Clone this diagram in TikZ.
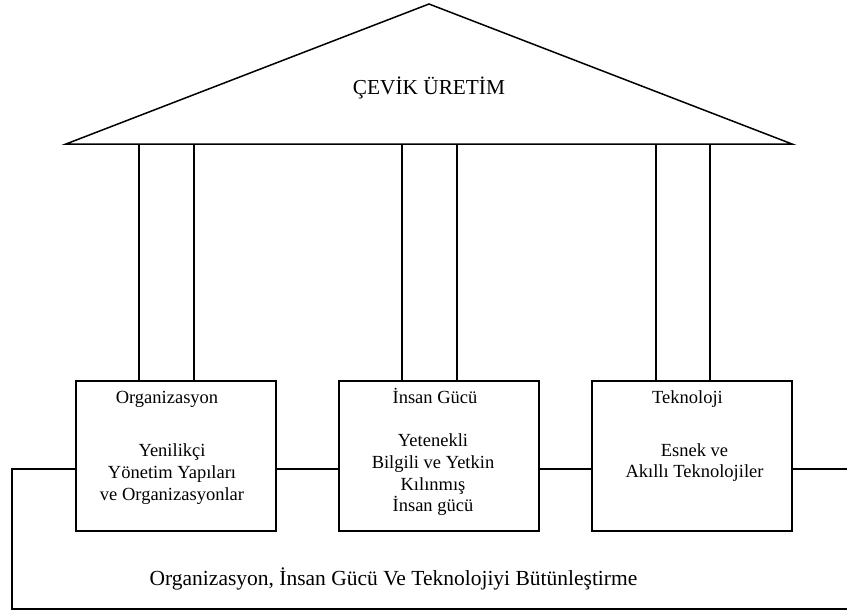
\documentclass[tikz,border=0pt]{standalone}
\usepackage{fontspec}
\setmainfont{Liberation Serif}
\begin{document}
\begin{tikzpicture}[x=1pt,y=1pt, line width=1.5pt,
  box/.style={draw, minimum width=200pt, minimum height=150pt, inner sep=0pt},
  lbl/.style={font=\fontsize{18.5}{21.7}\selectfont, align=center, inner sep=0pt},
  hdr/.style={font=\fontsize{18.5}{21.7}\selectfont, inner sep=0pt, anchor=base},
  ttl/.style={font=\fontsize{21.3}{25}\selectfont, inner sep=0pt}]
\useasboundingbox (0,0) rectangle (847,-613);
% roof
\coordinate (rl) at (66,-144);
\coordinate (ra) at (429,-4);
\coordinate (rr) at (792,-144);
\draw[line join=miter] (rl) -- (ra) -- (rr) -- cycle;
\node[ttl] (title) at (429,-88) {ÇEVİK ÜRETİM};
% boxes
\node[box] (org) at (176,-456) {};
\node[box] (ins) at (439,-456) {};
\node[box] (tek) at (692,-456) {};
% pillars
\coordinate (p1) at (139,-144);
\coordinate (p2) at (194,-144);
\coordinate (p3) at (402,-144);
\coordinate (p4) at (457,-144);
\coordinate (p5) at (656,-144);
\coordinate (p6) at (710,-144);
\draw (p1) -- (p1 |- org.north);
\draw (p2) -- (p2 |- org.north);
\draw (p3) -- (p3 |- ins.north);
\draw (p4) -- (p4 |- ins.north);
\draw (p5) -- (p5 |- tek.north);
\draw (p6) -- (p6 |- tek.north);
% connectors
\coordinate (lt) at (12,-469);
\coordinate (lb) at (12,-609);
\coordinate (rb) at (847,-609);
\coordinate (rt) at (847,-469);
\draw[line join=miter] (org.west |- lt) -- (lt) -- (lb) -- (rb);
\draw (org.east |- lt) -- (ins.west |- lt);
\draw (ins.east |- lt) -- (tek.west |- lt);
\draw (tek.east |- lt) -- (rt);
% texts
\node[hdr] (orgh) at (167,-403) {Organizasyon};
\node[lbl] (orgb) at (172,-474) {Yenilikçi\\Yönetim Yapıları\\ve Organizasyonlar};
\node[hdr] (insh) at (435,-403) {İnsan Gücü};
\node[lbl] (insb) at (433,-475) {Yetenekli\\Bilgili ve Yetkin\\Kılınmış\\İnsan gücü};
\node[hdr] (tekh) at (687.5,-403) {Teknoloji};
\node[lbl] (tekb) at (694.5,-462.5) {Esnek ve\\Akıllı Teknolojiler};
\node[ttl,font=\fontsize{21.5}{25}\selectfont] (bot) at (393.5,-579) {Organizasyon, İnsan Gücü Ve Teknolojiyi Bütünleştirme};
\end{tikzpicture}
\end{document}
